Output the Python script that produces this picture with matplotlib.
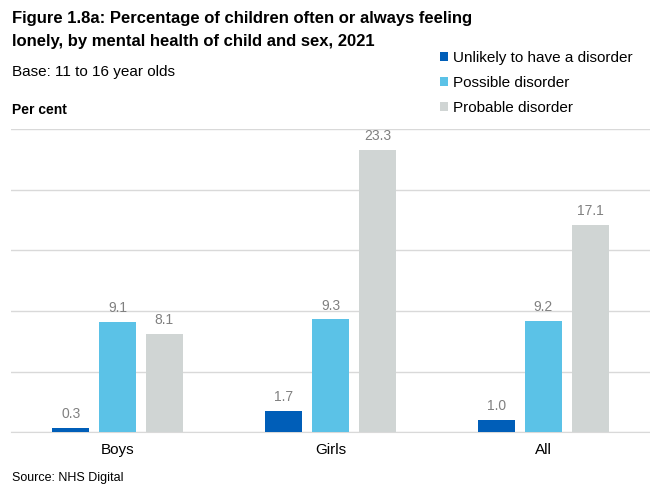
import numpy as np
import matplotlib.pyplot as plt

plt.rcParams['font.family'] = ['Liberation Sans', 'DejaVu Sans']

# data
groups = ["Boys", "Girls", "All"]
series = ["Unlikely to have a disorder", "Possible disorder", "Probable disorder"]
unlikely = [0.3, 1.7, 1.0]
possible = [9.1, 9.3, 9.2]
probable = [8.1, 23.3, 17.1]

colors = ["#005eb8", "#5bc2e7", "#d0d5d4"]

fig = plt.figure(figsize=(6.5, 4.86), dpi=100)
ax = fig.add_axes([11 / 650, 54 / 486, 1 - 11 / 650, (432 - 129.5) / 486])

x = np.arange(len(groups))
w = 0.173
step = 0.22
for i, (vals, name) in enumerate(zip([unlikely, possible, probable], series)):
    bars = ax.bar(x + (i - 1) * step, vals, w, color=colors[i], label=name, zorder=3)
    ax.bar_label(bars, labels=[f"{v:.1f}" for v in vals], padding=5,
                 color="#808080", fontsize=10)

ax.set_xlim(-0.5, 2.5)
ax.set_ylim(0, 25)
ax.set_yticks(np.arange(0, 26, 5))
ax.yaxis.grid(True, color="#d9d9d9", linewidth=1)
ax.set_axisbelow(True)
ax.tick_params(axis="y", left=False, labelleft=False)
ax.tick_params(axis="x", length=0, pad=8, labelsize=11)
ax.set_xticks(x)
ax.set_xticklabels(groups)
for s in ["top", "right", "left"]:
    ax.spines[s].set_visible(False)
ax.spines["bottom"].set_color("#d9d9d9")

fig.text(12 / 650, 1 - 11 / 486,
         "Figure 1.8a: Percentage of children often or always feeling\n"
         "lonely, by mental health of child and sex, 2021",
         fontsize=12, fontweight="bold", va="top", ha="left", linespacing=1.7)
fig.text(12 / 650, 1 - 72 / 486, "Base: 11 to 16 year olds", fontsize=11, va="center")
fig.text(12 / 650, 1 - 110 / 486, "Per cent", fontsize=10, fontweight="bold", va="center")
fig.text(12 / 650, 1 - 478 / 486, "Source: NHS Digital", fontsize=9, va="center")

fig.legend(loc="upper left", bbox_to_anchor=(440 / 650, 1 - 51 / 486), frameon=False,
           fontsize=11, handlelength=0.55, handleheight=0.55, handletextpad=0.3,
           labelspacing=0.72, borderaxespad=0, borderpad=0)

fig.savefig("out.png", dpi=100)
